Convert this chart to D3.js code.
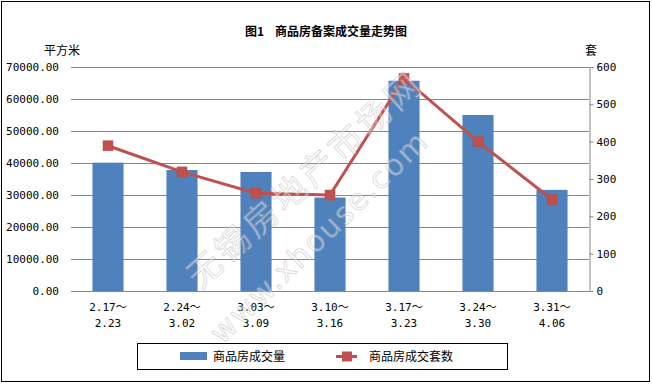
<!DOCTYPE html>
<html>
<head>
<meta charset="utf-8">
<script src="https://cdn.jsdelivr.net/npm/d3@7"></script>
<style>
  body { margin: 0; background: #fff; }
  text { font-family: "DejaVu Sans Mono", "Noto Sans CJK SC", monospace; }
  .cjk { font-family: "Noto Sans CJK SC", sans-serif; }
</style>
</head>
<body>
<div id="chart"></div>
<script>
// categories (week ranges), two lines each
var weeks = [["2.17～", "2.23"], ["2.24～", "3.02"], ["3.03～", "3.09"], ["3.10～", "3.16"],
             ["3.17～", "3.23"], ["3.24～", "3.30"], ["3.31～", "4.06"]];
// area sold (sq m) - bars, left axis
var area = [40100, 37800, 37200, 29200, 65700, 55000, 31600];
// units sold - line, right axis
var units = [389, 319, 262, 257, 570, 400, 245];

var leftTicks = [0, 10000, 20000, 30000, 40000, 50000, 60000, 70000];
var rightTicks = [0, 100, 200, 300, 400, 500, 600];

var W = 652, H = 384;
var plot = {left: 71, right: 589, top: 67, bottom: 291};

var svg = d3.select("#chart").append("svg")
    .attr("width", W)
    .attr("height", H);

// outer frame
svg.append("rect")
    .attr("x", 1.5).attr("y", 1.5)
    .attr("width", W - 4).attr("height", H - 4)
    .attr("fill", "#fff")
    .attr("stroke", "#000")
    .attr("stroke-width", 1);

// title
svg.append("text")
    .attr("class", "cjk")
    .attr("x", 326).attr("y", 36)
    .attr("text-anchor", "middle")
    .style("font-size", "12px")
    .style("font-weight", "bold")
    .text("图1\u00a0\u00a0\u00a0\u00a0商品房备案成交量走势图");

// scales
var x = d3.scaleBand()
    .domain(d3.range(weeks.length))
    .range([plot.left, plot.right])
    .paddingInner(0.58)
    .paddingOuter(0.29);

var yL = d3.scaleLinear().domain([0, 70000]).range([plot.bottom, plot.top]);
var yR = d3.scaleLinear().domain([0, 600]).range([plot.bottom, plot.top]);

// gridlines
svg.append("g")
  .selectAll("line")
  .data(leftTicks)
  .enter().append("line")
    .attr("x1", plot.left).attr("x2", plot.right)
    .attr("y1", function(d) { return Math.round(yL(d)) + 0.5; })
    .attr("y2", function(d) { return Math.round(yL(d)) + 0.5; })
    .attr("stroke", "#868686")
    .attr("stroke-width", 1);

// left axis labels
var leftAxis = svg.append("g")
    .attr("transform", "translate(" + (plot.left - 9) + ",0)")
    .call(d3.axisLeft(yL).tickValues(leftTicks).tickSize(0).tickFormat(d3.format(".2f")));
leftAxis.select(".domain").remove();
leftAxis.selectAll("text")
    .style("font-size", "11px")
    .attr("fill", "#000");

// right axis
var rightAxis = svg.append("g")
    .attr("transform", "translate(" + (plot.right + 0.5) + ",0)")
    .call(d3.axisRight(yR).tickValues(rightTicks).tickSize(4).tickSizeOuter(0));
rightAxis.select(".domain").attr("stroke", "#868686");
rightAxis.selectAll(".tick line").attr("stroke", "#868686");
rightAxis.selectAll("text")
    .attr("x", 7)
    .style("font-size", "11px")
    .attr("fill", "#000");

// axis unit titles
svg.append("text").attr("class", "cjk")
    .attr("x", 62).attr("y", 55)
    .attr("text-anchor", "middle")
    .style("font-size", "12px")
    .text("平方米");
svg.append("text").attr("class", "cjk")
    .attr("x", 591).attr("y", 55)
    .attr("text-anchor", "middle")
    .style("font-size", "12px")
    .text("套");

// bars
svg.append("g")
  .selectAll("rect")
  .data(area)
  .enter().append("rect")
    .attr("x", function(d, i) { return x(i); })
    .attr("y", function(d) { return yL(d); })
    .attr("width", x.bandwidth())
    .attr("height", function(d) { return plot.bottom - yL(d); })
    .attr("fill", "#4F81BD");

// x baseline
svg.append("line")
    .attr("x1", plot.left).attr("x2", plot.right)
    .attr("y1", plot.bottom + 0.5).attr("y2", plot.bottom + 0.5)
    .attr("stroke", "#868686");

// x labels
var xl = svg.append("g")
  .selectAll("text")
  .data(weeks)
  .enter().append("text")
    .attr("text-anchor", "middle")
    .style("font-size", "11px")
    .attr("x", function(d, i) { return x(i) + x.bandwidth() / 2; });
xl.append("tspan")
    .attr("x", function(d, i) { return x(i) + x.bandwidth() / 2; })
    .attr("y", 311)
    .text(function(d) { return d[0]; });
xl.append("tspan")
    .attr("x", function(d, i) { return x(i) + x.bandwidth() / 2; })
    .attr("y", 327)
    .text(function(d) { return d[1]; });

// line series
var line = d3.line()
    .x(function(d, i) { return x(i) + x.bandwidth() / 2; })
    .y(function(d) { return yR(d); });

svg.append("path")
    .datum(units)
    .attr("d", line)
    .attr("fill", "none")
    .attr("stroke", "#C0504D")
    .attr("stroke-width", 3);

svg.append("g")
  .selectAll("rect")
  .data(units)
  .enter().append("rect")
    .attr("x", function(d, i) { return x(i) + x.bandwidth() / 2 - 5; })
    .attr("y", function(d) { return yR(d) - 5; })
    .attr("width", 10).attr("height", 10)
    .attr("fill", "#C0504D")
    .attr("stroke", "#B84A47")
    .attr("stroke-width", 0.5);

// legend
svg.append("rect")
    .attr("x", 137.5).attr("y", 343.5)
    .attr("width", 370).attr("height", 26)
    .attr("fill", "#fff")
    .attr("stroke", "#000");
svg.append("rect")
    .attr("x", 180).attr("y", 352)
    .attr("width", 27).attr("height", 8)
    .attr("fill", "#4F81BD");
svg.append("text").attr("class", "cjk")
    .attr("x", 213).attr("y", 361)
    .style("font-size", "12px")
    .text("商品房成交量");
svg.append("line")
    .attr("x1", 336).attr("x2", 357)
    .attr("y1", 356.5).attr("y2", 356.5)
    .attr("stroke", "#C0504D")
    .attr("stroke-width", 3);
svg.append("rect")
    .attr("x", 342).attr("y", 351.5)
    .attr("width", 10).attr("height", 10)
    .attr("fill", "#C0504D");
svg.append("text").attr("class", "cjk")
    .attr("x", 369).attr("y", 361)
    .style("font-size", "12px")
    .text("商品房成交套数");

// watermark (hollow outline text)
var wm = svg.append("g")
    .attr("pointer-events", "none")
    .style("opacity", 0.45);
wm.append("text").attr("class", "cjk")
    .attr("transform", "translate(200,290) rotate(-42)")
    .style("font-size", "34px")
    .attr("fill", "#fff")
    .attr("stroke", "#a8a8a8")
    .attr("stroke-width", 0.8)
    .attr("letter-spacing", "4px")
    .text("无锡房地产市场网");
wm.append("text")
    .attr("transform", "translate(222,345) rotate(-44)")
    .style("font-family", "DejaVu Sans, sans-serif")
    .style("font-size", "30px")
    .attr("fill", "#fff")
    .attr("stroke", "#a8a8a8")
    .attr("stroke-width", 0.8)
    .attr("letter-spacing", "2px")
    .text("www.xhouse.com");
</script>
</body>
</html>
